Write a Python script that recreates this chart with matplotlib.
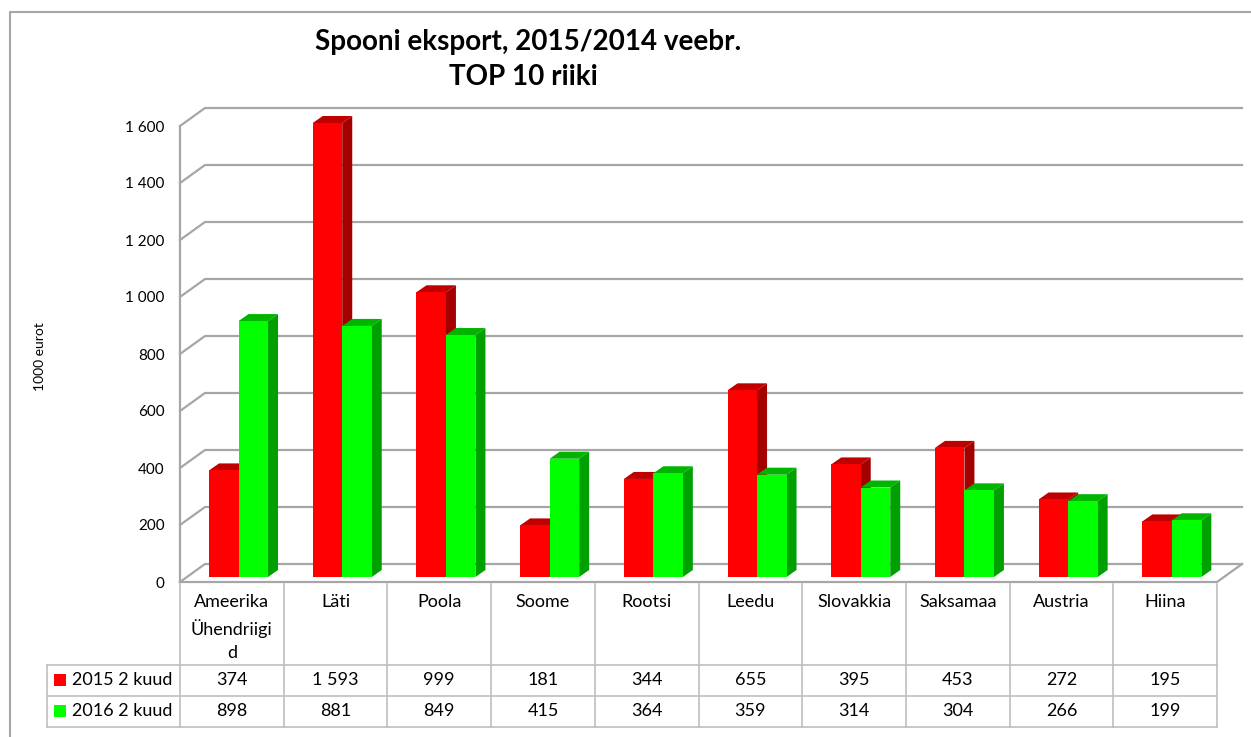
import matplotlib.pyplot as plt
from matplotlib.patches import Rectangle, Polygon
from matplotlib.lines import Line2D

countries = ["Ameerika\nÜhendriigi\nd", "Läti", "Poola", "Soome", "Rootsi",
             "Leedu", "Slovakkia", "Saksamaa", "Austria", "Hiina"]
v2015 = [374, 1593, 999, 181, 344, 655, 395, 453, 272, 195]
v2016 = [898, 881, 849, 415, 364, 359, 314, 304, 266, 199]
series_names = ["2015 2 kuud", "2016 2 kuud"]
yticks = [0, 200, 400, 600, 800, 1000, 1200, 1400, 1600]

plt.rcParams['font.family'] = ['Lato', 'DejaVu Sans']

W, H = 1251, 737
fig = plt.figure(figsize=(W / 100, H / 100), dpi=100)


def fx(px):
    return px / W


def fy(py):
    return 1 - py / H


# pixel geometry of the pseudo-3d frame
x0, xr, ybase, ytop = 180, 1245, 582, 100
cat_px = 103.7
unit_px = 456 / 1600

ax = fig.add_axes([fx(x0), fy(ybase), (xr - x0) / W, (ybase - ytop) / H])
ax.set_xlim(0, (xr - x0) / cat_px)
ax.set_ylim(0, (ybase - ytop) / unit_px)
for s in ax.spines.values():
    s.set_visible(False)
ax.set_xticks([])

n = len(countries)
DX = 25 / cat_px
DY = 18 / unit_px
grid_c = '#a6a6a6'

# walls / gridlines
for v in yticks:
    ax.plot([0, DX, n + DX], [v, v + DY, v + DY], color=grid_c, lw=1.6, zorder=1, clip_on=False)
ax.plot([0, 0], [0, yticks[-1]], color=grid_c, lw=1.6, zorder=1, clip_on=False)
ax.plot([0, n, n + DX], [0, 0, DY], color=grid_c, lw=1.6, zorder=1, clip_on=False)

ax.set_yticks(yticks)
ax.set_yticklabels([f"{v:,}".replace(",", " ") for v in yticks], fontsize=11)
ax.tick_params(axis='y', length=0, pad=11)

# bars
bw = 29.5 / cat_px
bx = 0.28
b0 = 5 / unit_px
sdx = 10 / cat_px
sdy = 7 / unit_px
colors = [('#ff0000', '#a50000', '#c00000'), ('#00ff00', '#00a000', '#00b400')]
for i in range(n):
    for j, vals in enumerate([v2015, v2016]):
        front, side, top = colors[j]
        x = i + bx + j * bw
        h = vals[i]
        z = 3 + j
        ax.add_patch(Polygon([(x + bw, b0), (x + bw + sdx, b0 + sdy), (x + bw + sdx, b0 + h + sdy),
                              (x + bw, b0 + h)], closed=True, facecolor=side, edgecolor='none', zorder=z))
        ax.add_patch(Polygon([(x, b0 + h), (x + sdx, b0 + h + sdy), (x + bw + sdx, b0 + h + sdy),
                              (x + bw, b0 + h)], closed=True, facecolor=top, edgecolor='none', zorder=z))
        ax.add_patch(Rectangle((x, b0), bw, h, facecolor=front, edgecolor='none', zorder=z))

# data table under the chart
tc = '#bfbfbf'
rows_y = [584, 665, 696, 727]
for k in range(n + 1):
    xx = x0 + cat_px * k
    fig.add_artist(Line2D([fx(xx), fx(xx)], [fy(584), fy(727)], color=tc, lw=1.2))
for yy in rows_y[1:]:
    fig.add_artist(Line2D([fx(47), fx(x0 + cat_px * n)], [fy(yy), fy(yy)], color=tc, lw=1.2))
fig.add_artist(Line2D([fx(47), fx(47)], [fy(665), fy(727)], color=tc, lw=1.2))

for i, name in enumerate(countries):
    cx = x0 + cat_px * (i + 0.5)
    fig.text(fx(cx), fy(594), name, ha='center', va='top', fontsize=13, linespacing=1.55)
    fig.text(fx(cx), fy(680), f"{v2015[i]:,}".replace(",", " "), ha='center', va='center', fontsize=13)
    fig.text(fx(cx), fy(711), f"{v2016[i]:,}".replace(",", " "), ha='center', va='center', fontsize=13)

for j, nm in enumerate(series_names):
    yc = 680 + 31 * j
    fig.add_artist(Rectangle((fx(54), fy(yc + 6)), 12 / W, 12 / H, facecolor=colors[j][0],
                             edgecolor='none', transform=fig.transFigure))
    fig.text(fx(72), fy(yc), nm, ha='left', va='center', fontsize=13)

# outer frame
fig.add_artist(Line2D([fx(10), fx(10), fx(1251)], [fy(737), fy(12), fy(12)], color='#a6a6a6', lw=1.5))

fig.text(fx(40), fy(357), "1000 eurot", rotation=90, ha='center', va='center', fontsize=10)
fig.text(fx(528), fy(42), "Spooni eksport, 2015/2014 veebr.", ha='center', va='center',
         fontsize=20, fontweight='bold')
fig.text(fx(523), fy(77), "TOP 10 riiki", ha='center', va='center', fontsize=20, fontweight='bold')

fig.savefig("out.png", dpi=100)
